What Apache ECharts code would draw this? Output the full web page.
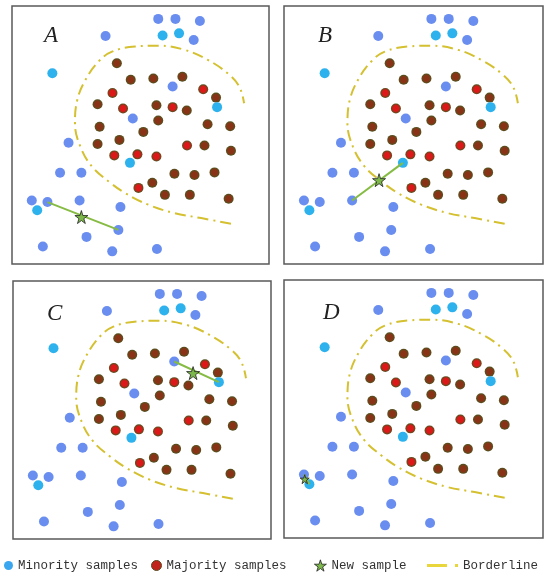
<!DOCTYPE html>
<html>
<head>
<meta charset="utf-8">
<script src="https://cdn.jsdelivr.net/npm/echarts@6/dist/echarts.min.js"></script>
<style>
  html, body { margin: 0; padding: 0; background: #fff; }
  #main { width: 550px; height: 580px; }
</style>
</head>
<body>
<div id="main"></div>
<script>
// sample positions, in % of each panel (x right, y up) - the same set is drawn in all 4 panels
var minority = [
  [56.9, 95.0], [63.6, 95.0], [73.1, 94.2], [36.4, 88.4], [58.6, 88.6], [65.0, 89.4],
  [70.7, 86.8], [15.7, 73.9], [62.5, 68.8], [79.8, 60.8], [47.0, 56.4], [22.0, 47.0],
  [45.9, 39.2], [18.7, 35.4], [27.0, 35.4], [7.7, 24.6], [13.8, 24.0], [9.8, 20.8],
  [26.3, 24.6], [42.2, 22.1], [41.4, 13.2], [29.0, 10.5], [12.0, 6.8], [39.0, 4.9],
  [56.4, 5.8]
];
var majority = [
  [40.8, 77.8], [46.2, 71.4], [55.0, 71.9], [66.3, 72.6], [39.1, 66.3], [74.4, 67.7],
  [79.4, 64.5], [33.3, 61.9], [43.2, 60.3], [56.2, 61.5], [62.5, 60.8], [68.0, 59.5],
  [56.9, 55.6], [34.1, 53.2], [51.1, 51.2], [76.1, 54.2], [84.9, 53.4], [33.3, 46.5],
  [41.8, 48.1], [68.1, 45.9], [74.9, 45.9], [85.2, 43.9], [39.8, 42.1], [48.8, 42.5],
  [56.2, 41.7], [63.2, 35.0], [71.0, 34.5], [78.8, 35.5], [54.6, 31.5], [49.2, 29.5],
  [59.5, 26.8], [69.2, 26.8], [84.3, 25.3]
];
var borderline = [
  [85.2, 15.6], [73.6, 17.8], [63.3, 19.7], [53.0, 23.0], [44.0, 27.5], [37.6, 32.0],
  [31.1, 37.8], [26.6, 45.5], [24.5, 54.6], [25.4, 63.6], [28.6, 71.4], [33.7, 78.5],
  [38.9, 82.3], [47.9, 84.3], [56.9, 84.6], [67.2, 83.0], [76.2, 79.1], [83.9, 73.9],
  [88.4, 68.8], [90.3, 62.3]
];
var panelNames = ['A', 'B', 'C', 'D'];
// new synthetic sample of each panel and the two minority samples it lies between
var newSamples = [[27.0, 18.2], [36.7, 32.5], [69.8, 64.3], [8.0, 22.8]];
var links = [[16, 20], [12, 18], [8, 9], [15, 17]];

// styling
var cyanSet = [4, 5, 7, 9, 12, 17];
var redSet = [4, 5, 8, 10, 19, 22, 23, 24, 29];
var grids = [
  { left: 12, top: 6, width: 257, height: 258 },
  { left: 284, top: 6, width: 259, height: 258 },
  { left: 13, top: 281, width: 258, height: 258 },
  { left: 284, top: 280, width: 259, height: 258 }
];
var labelPos = [[44, 24], [318, 24], [47, 302], [323, 301]];
var starPath = 'path://M50,0 L61,35 L98,35 L68,57 L79,91 L50,70 L21,91 L32,57 L2,35 L39,35 Z';
var lineColor = '#d4c030';

function majColor(i) {
  var c = redSet.indexOf(i) >= 0 ? '#dc1818' : '#8a3216';
  return {
    type: 'radial', x: 0.5, y: 0.5, r: 0.5,
    colorStops: [{ offset: 0, color: c }, { offset: 0.55, color: c }, { offset: 1, color: '#4f5420' }]
  };
}

var series = [];
var xAxes = [];
var yAxes = [];
var titles = [];
grids.forEach(function (g, k) {
  g.show = true;
  g.borderColor = '#5a5a5a';
  g.borderWidth = 1.5;
  g.backgroundColor = '#fff';
  xAxes.push({ gridIndex: k, type: 'value', min: 0, max: 100, show: false });
  yAxes.push({ gridIndex: k, type: 'value', min: 0, max: 100, show: false });
  titles.push({
    text: panelNames[k], left: labelPos[k][0], top: labelPos[k][1], padding: 0,
    textStyle: { fontFamily: 'Liberation Serif', fontStyle: 'italic', fontWeight: 'normal', fontSize: 23, color: '#222' }
  });
  series.push({
    name: 'Borderline', type: 'line', xAxisIndex: k, yAxisIndex: k,
    data: borderline, smooth: 0.4, showSymbol: false, z: 1, silent: true,
    itemStyle: { color: lineColor },
    lineStyle: { color: lineColor, width: 2, type: [11, 5, 2, 5] }
  });
  series.push({
    name: 'Majority samples', type: 'scatter', xAxisIndex: k, yAxisIndex: k,
    symbolSize: 10, z: 2,
    itemStyle: { color: '#c0281c', opacity: 1 },
    data: majority.map(function (p, i) {
      return { value: p, itemStyle: { color: majColor(i) } };
    })
  });
  series.push({
    name: 'Minority samples', type: 'scatter', xAxisIndex: k, yAxisIndex: k,
    symbolSize: 10, z: 3,
    itemStyle: { color: '#3aa6f0', opacity: 1 },
    data: minority.map(function (p, i) {
      return { value: p, itemStyle: { color: cyanSet.indexOf(i) >= 0 ? '#2eb2ee' : '#6a8ef0' } };
    })
  });
  series.push({
    name: 'link', type: 'line', xAxisIndex: k, yAxisIndex: k,
    data: [minority[links[k][0]], minority[links[k][1]]],
    showSymbol: false, z: 4, silent: true,
    lineStyle: { color: '#86bb44', width: 2 }
  });
  series.push({
    name: 'New sample', type: 'scatter', xAxisIndex: k, yAxisIndex: k,
    symbol: starPath, symbolSize: k === 3 ? 9 : 13, z: 5,
    itemStyle: { color: '#7db84a', borderColor: '#222', borderWidth: 0.8, opacity: 1 },
    data: [newSamples[k]]
  });
});

function legendOf(name, left, top, icon, w, h, style) {
  return {
    data: [{ name: name, icon: icon, itemStyle: style }],
    left: left, top: top, padding: 0,
    itemWidth: w, itemHeight: h, itemGap: 0,
    selectedMode: false,
    textStyle: { fontFamily: 'Liberation Mono', fontSize: 12.5, color: '#333' }
  };
}

var myChart = echarts.init(document.getElementById('main'));
myChart.setOption({
  animation: false,
  title: titles,
  grid: grids,
  xAxis: xAxes,
  yAxis: yAxes,
  legend: [
    legendOf('Minority samples', 4, 559, 'circle', 9, 9, { color: '#3aa6f0' }),
    legendOf('Majority samples', 151, 559, 'circle', 10, 10, { color: '#c0241a', borderColor: '#5a4a1e', borderWidth: 1 }),
    legendOf('New sample', 314, 559, starPath, 12, 12, { color: '#7db84a', borderColor: '#222', borderWidth: 0.8 }),
    legendOf('Borderline', 427, 559, 'path://M0,0H20V3H0Z M28,0H31V3H28Z', 31, 3, { color: '#e8d63c', borderWidth: 0 })
  ],
  series: series
});
</script>
</body>
</html>
